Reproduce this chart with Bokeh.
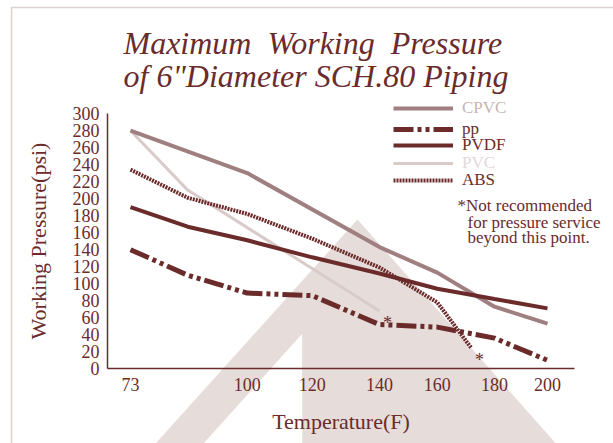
import numpy as np
from bokeh.plotting import figure
from bokeh.models import (ColumnDataSource, FixedTicker, Range1d, Label, PolyAnnotation,
                          Legend, LegendItem, LinearInterpolator)
from bokeh.transform import transform
from bokeh.core.properties import value
from bokeh.embed import file_html
from bokeh.resources import INLINE

# ---------------- data ----------------
axis_temps = [73, 90, 100, 120, 140, 160, 180, 200]        # hand-drawn, non-uniform axis
axis_slots = [0.0, 0.96, 1.96, 3.05, 4.18, 5.15, 6.11, 7.0]
tick_temps = [73, 100, 120, 140, 160, 180, 200]
y_ticks = list(range(0, 301, 20))

cpvc_t = [73, 100, 140, 160, 180, 200]
cpvc_p = [280, 230, 143, 113, 73, 53]
pvc_t = [73, 90, 140]
pvc_p = [280, 210, 68]
pp_t = [73, 90, 100, 120, 140, 160, 180, 200]
pp_p = [140, 110, 89, 86, 52, 49, 36, 10]
pvdf_t = [73, 90, 100, 120, 140, 160, 180, 200]
pvdf_p = [190, 167, 151, 131, 112, 94, 82, 71]
abs_t = [73, 90, 100, 120, 140, 160, 172]
abs_p = [234, 201, 182, 153, 119, 78, 24]

# ---------------- style ----------------
FONT = "Liberation Serif"
DARK = "#6b2b2b"
CPVC_C = "#9f7f80"
PVC_C = "#d9cbc9"
WM = "#e6dcd9"

W, H = 613, 443
# page geometry of the reference axes
X0_PX, SLOT_PX = 130.0, 59.571          # page x of slot 0 and px per slot
Y0_PX, UNIT_PX = 368.3, 0.851           # page y of 0 psi and px per psi

p = figure(width=W, height=H, output_backend="svg", toolbar_location=None,
           x_range=Range1d(-X0_PX / SLOT_PX, (W - X0_PX) / SLOT_PX),
           y_range=Range1d(-(H - Y0_PX) / UNIT_PX, Y0_PX / UNIT_PX),
           min_border=0, min_border_left=0, min_border_right=0,
           min_border_top=0, min_border_bottom=0)
p.background_fill_color = "white"
p.border_fill_color = "white"
p.outline_line_color = None
p.xgrid.visible = False
p.ygrid.visible = False


def sx(px):
    return px


def sy(py):
    return H - py


# watermark
big = [(357, 219), (570.5, 460), (139.8, 460)]
p.add_layout(PolyAnnotation(xs=[sx(a) for a, b in big], ys=[sy(b) for a, b in big],
                            xs_units="screen", ys_units="screen", fill_color=WM, fill_alpha=1,
                            line_color=None, level="underlay"))
cut = [(301.7, 333.3), (301.7, 460), (187.7, 460)]
p.add_layout(PolyAnnotation(xs=[sx(a) for a, b in cut], ys=[sy(b) for a, b in cut],
                            xs_units="screen", ys_units="screen", fill_color="white", fill_alpha=1,
                            line_color=None, level="underlay"))
# outer frame lines
brd = [(11, 2000), (11, 7), (2000, 7)]
p.add_layout(PolyAnnotation(xs=[sx(a) for a, b in brd], ys=[sy(b) for a, b in brd],
                            xs_units="screen", ys_units="screen", fill_alpha=0,
                            line_color="#8d6666", line_width=1.5, level="overlay"))

# axes
x_left = (107 - X0_PX) / SLOT_PX
x_right = (574 - X0_PX) / SLOT_PX
interp = LinearInterpolator(x=axis_temps, y=axis_slots)
tick_pos = [float(v) for v in np.interp(tick_temps, axis_temps, axis_slots)]
p.xaxis.ticker = FixedTicker(ticks=tick_pos)
p.xaxis.major_label_overrides = {tp: str(t) for tp, t in zip(tick_pos, tick_temps)}
p.xaxis.bounds = (x_left, x_right)
p.xaxis.fixed_location = 0
p.yaxis.ticker = FixedTicker(ticks=y_ticks)
p.yaxis.bounds = (0, 300)
p.yaxis.fixed_location = x_left
for ax in (p.xaxis[0], p.yaxis[0]):
    ax.axis_line_color = DARK
    ax.axis_line_width = 1.5
    ax.major_tick_line_color = None
    ax.minor_tick_line_color = None
    ax.major_label_text_font = FONT
    ax.major_label_text_font_size = "18px"
    ax.major_label_text_color = DARK
    ax.axis_label_text_font = FONT
    ax.axis_label_text_font_size = "22px"
    ax.axis_label_text_font_style = "normal"
    ax.axis_label_text_color = DARK
p.xaxis.axis_label = "Temperature(F)"
p.yaxis.axis_label = "Working Pressure(psi)"
p.xaxis.major_label_standoff = 3
p.yaxis.major_label_standoff = 2
p.xaxis.axis_label_standoff = 15
p.yaxis.axis_label_standoff = 19


def src(t, v):
    return ColumnDataSource(dict(t=t, v=v))


X = transform("t", interp)
r_pvc = p.line(X, "v", source=src(pvc_t, pvc_p), line_color=PVC_C, line_width=3)
r_cpvc = p.line(X, "v", source=src(cpvc_t, cpvc_p), line_color=CPVC_C, line_width=4)
r_abs = p.line(X, "v", source=src(abs_t, abs_p), line_color=DARK, line_width=4, line_dash="2 1")
r_pvdf = p.line(X, "v", source=src(pvdf_t, pvdf_p), line_color=DARK, line_width=4)
r_pp = p.line(X, "v", source=src(pp_t, pp_p), line_color=DARK, line_width=5,
              line_dash="20 4 4 4 4 4")

# asterisks at the "not recommended" end points
ast = ColumnDataSource(dict(t=[pvc_t[-1], abs_t[-1]], v=[pvc_p[-1], abs_p[-1]]))
p.text(X, "v", text=value("*"), source=ast, text_font=value(FONT), text_font_size="18px",
       text_color=DARK, text_align="center", text_baseline="middle", x_offset=8, y_offset=12)

# legends (one per item so each label keeps its own colour)
leg_rows = [("CPVC", r_cpvc, "#c8b5b3", 109.5), ("pp", r_pp, DARK, 131),
            ("PVDF", r_pvdf, DARK, 147), ("PVC", r_pvc, "#e3d9d7", 164.5),
            ("ABS", r_abs, DARK, 182)]
for name, r, col, cy in leg_rows:
    lg = Legend(items=[LegendItem(label=name, renderers=[r])], location=(sx(393), sy(cy + 8)),
                glyph_width=60, glyph_height=16, label_height=16, label_standoff=9,
                padding=0, margin=0, spacing=0, border_line_color=None, background_fill_alpha=0,
                label_text_font=FONT, label_text_font_size="17px", label_text_color=col)
    p.add_layout(lg)


def lab(text, px, py, size, color=DARK, style="normal", baseline="middle"):
    p.add_layout(Label(x=sx(px), y=sy(py), x_units="screen", y_units="screen", text=text,
                       text_font=FONT, text_font_size=size, text_color=color,
                       text_font_style=style, text_baseline=baseline, text_align="left"))


lab("Maximum\u00a0 Working\u00a0 Pressure", 123, 42, "32px", style="italic", baseline="alphabetic")
lab("of 6\"Diameter SCH.80 Piping", 123, 75, "32px", style="italic", baseline="alphabetic")
lab("*Not recommended", 457, 205, "17px")
lab("for pressure service", 467, 221.5, "17px")
lab("beyond this point.", 467, 237, "17px")

open("out.html", "w").write(file_html(p, INLINE))
